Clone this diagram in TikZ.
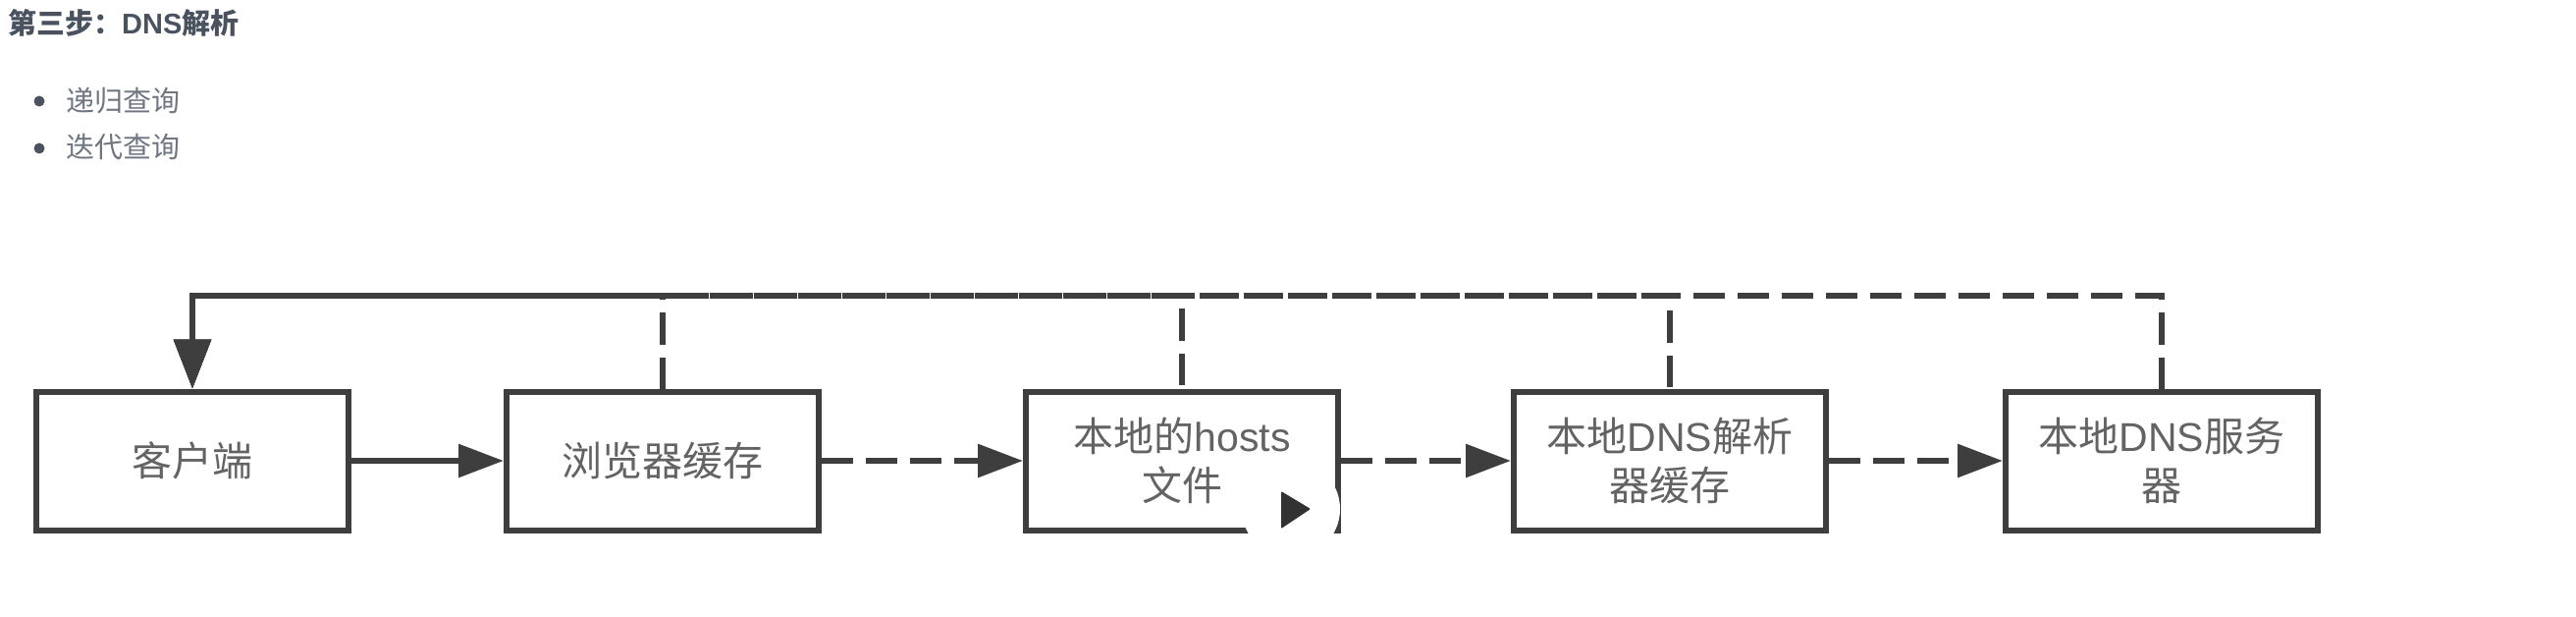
\documentclass[tikz,border=0pt]{standalone}
\usepackage{fontspec}
\setmainfont{Noto Sans CJK SC}
\newfontfamily\latinfont{Liberation Sans}
\usetikzlibrary{arrows.meta}
\definecolor{linecol}{HTML}{3E3E3E}
\definecolor{labelcol}{HTML}{636363}
\definecolor{headcol}{HTML}{4A5260}
\definecolor{itemcol}{HTML}{6F7682}
\tikzset{
    stepbox/.style={draw=linecol, line width=6pt, minimum width=318pt, minimum height=141pt, inner sep=0pt,
                    align=center, text=labelcol, font=\fontsize{41}{50}\selectfont},
    flow/.style={draw=linecol, line width=6pt},
    hop/.style={flow, dash pattern=on 32pt off 13pt},
    back/.style={hop, >={Triangle[length=50pt, width=37pt]}},
    headline/.style={anchor=west, inner sep=0pt, text=headcol, font=\fontsize{29}{34}\selectfont\bfseries},
    itemline/.style={anchor=west, inner sep=0pt, text=itemcol, font=\fontsize{29}{34}\selectfont},
    itemdot/.style={circle, fill=headcol, minimum size=11pt, inner sep=0pt}
}
\begin{document}
\begin{tikzpicture}[x=1pt, y=-1pt, >={Triangle[length=46pt, width=33pt]}]
    \useasboundingbox (0,0) rectangle (2624,628);

    \node[headline] (title) at (8,23) {第三步：{\latinfont DNS}解析};
    \node[itemdot] (dotone) at (40,103) {};
    \node[itemline] (itemone) at (67,102) {递归查询};
    \node[itemdot] (dottwo) at (40,151) {};
    \node[itemline] (itemtwo) at (67,150) {迭代查询};

    \node[stepbox] (client)   at (196,469)  {客户端};
    \node[stepbox] (browser)  at (675,469)  {浏览器缓存};
    \node[stepbox] (hosts)    at (1204,469) {本地的{\latinfont hosts}\\文件};
    \node[stepbox] (resolver) at (1701,469) {本地{\latinfont DNS}解析\\器缓存};
    \node[stepbox] (server)   at (2202,469) {本地{\latinfont DNS}服务\\器};
    \coordinate (top) at (196,301);

    \draw[flow,->] (client) -- (browser);
    \draw[hop,->] (browser) -- (hosts);
    \draw[hop,->] (hosts) -- (resolver);
    \draw[hop,->] (resolver) -- (server);

    \draw[back,->] (browser.north) -- (browser.north |- top) -- (top) -- (client.north);
    \draw[back,dash phase=41pt,->] (hosts.north) -- (hosts.north |- top) -- (top) -- (client.north);
    \draw[back,dash phase=43pt,->] (resolver.north) -- (resolver.north |- top) -- (top) -- (client.north);
    \draw[back,->] (server.north) -- (server.north |- top) -- (top) -- (client.north);

    \begin{scope}
        \clip (1250,470) rectangle (1380,545);
        \fill[white] (1315,518) circle (50);
    \end{scope}
    \fill[linecol!80!black, rounded corners=1pt] (1305,500) -- (1335,518) -- (1305,538) -- cycle;
\end{tikzpicture}
\end{document}
